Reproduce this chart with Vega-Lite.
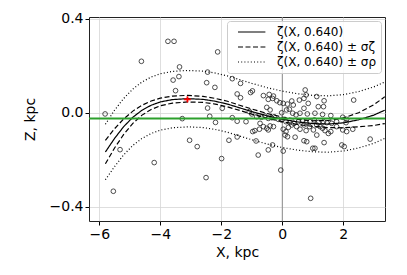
{
  "$schema": "https://vega.github.io/schema/vega-lite/v6.json",
  "width": 296,
  "height": 204,
  "autosize": {"type": "none"},
  "padding": {"left": 89, "top": 17, "right": 22, "bottom": 54},
  "background": "white",
  "config": {
    "font": "DejaVu Sans",
    "view": {"stroke": "#222", "strokeWidth": 1},
    "axis": {
      "labelFont": "DejaVu Sans", "labelFontSize": 14, "labelColor": "#000",
      "titleFont": "DejaVu Sans", "titleFontSize": 14, "titleFontWeight": "normal", "titleColor": "#000",
      "tickColor": "#000", "tickSize": 4, "labelPadding": 2, "domain": false,
      "gridColor": "#d6d6d6", "gridWidth": 0.8
    },
    "legend": {
      "orient": "top-right", "offset": 4, "padding": 5,
      "strokeColor": "#cccccc", "fillColor": "rgba(255,255,255,0.85)", "cornerRadius": 3,
      "labelFont": "DejaVu Sans", "labelFontSize": 12, "labelColor": "#000",
      "rowPadding": 3, "labelOffset": 33,
      "symbolType": "M0,0H10", "symbolSize": 30, "symbolStrokeWidth": 1.2, "symbolStrokeColor": "#000"
    }
  },
  "datasets": {
    "pts": [
      {"x": -3.75, "z": 0.305}, {"x": -3.55, "z": 0.305}, {"x": -2.12, "z": 0.26}, {"x": -4.62, "z": 0.22},
      {"x": -3.37, "z": 0.196}, {"x": -2.45, "z": 0.174}, {"x": -3.58, "z": 0.14}, {"x": -3.39, "z": 0.155},
      {"x": -2.48, "z": 0.129}, {"x": -2.21, "z": 0.109}, {"x": -1.64, "z": 0.146}, {"x": -3.5, "z": 0.095},
      {"x": -1.48, "z": 0.081}, {"x": -2.45, "z": 0.021}, {"x": -1.97, "z": 0.02}, {"x": -5.81, "z": -0.004},
      {"x": -3.28, "z": -0.024}, {"x": -2.38, "z": -0.014}, {"x": -2.19, "z": -0.04}, {"x": -1.64, "z": -0.02},
      {"x": -1.48, "z": -0.035},
      {"x": -3.04, "z": -0.116}, {"x": -2.79, "z": -0.143}, {"x": -1.75, "z": -0.116}, {"x": -1.48, "z": -0.102},
      {"x": -5.32, "z": -0.156}, {"x": -1.99, "z": -0.194}, {"x": -4.2, "z": -0.211}, {"x": -2.5, "z": -0.275},
      {"x": -5.54, "z": -0.333},
      {"x": -1.37, "z": 0.126}, {"x": -1.04, "z": 0.087}, {"x": -0.98, "z": 0.094}, {"x": -0.62, "z": 0.074},
      {"x": -0.43, "z": 0.079}, {"x": -0.29, "z": 0.072}, {"x": 0.75, "z": 0.098}, {"x": 0.78, "z": 0.077},
      {"x": 1.13, "z": 0.07}, {"x": 1.37, "z": 0.052}, {"x": 2.34, "z": 0.055},
      {"x": -1.37, "z": 0.065}, {"x": -0.46, "z": 0.058}, {"x": -0.32, "z": 0.062}, {"x": -0.18, "z": 0.052},
      {"x": -0.08, "z": 0.044}, {"x": 0.03, "z": 0.041}, {"x": 0.17, "z": 0.038}, {"x": 0.31, "z": 0.051},
      {"x": 0.36, "z": 0.034}, {"x": 0.56, "z": 0.055}, {"x": 0.71, "z": 0.062}, {"x": 0.85, "z": 0.041},
      {"x": 1.18, "z": 0.027}, {"x": 1.35, "z": 0.027},
      {"x": -1.08, "z": 0.006}, {"x": -0.51, "z": 0.024}, {"x": -0.4, "z": 0.013}, {"x": -0.02, "z": 0.001},
      {"x": 0.14, "z": 0.013}, {"x": 0.23, "z": 0.016}, {"x": 0.34, "z": -0.001}, {"x": 0.45, "z": -0.008},
      {"x": 0.58, "z": -0.001}, {"x": 0.71, "z": 0.02}, {"x": 0.82, "z": -0.004}, {"x": 1.07, "z": -0.001},
      {"x": 1.32, "z": -0.006}, {"x": 1.59, "z": -0.011}, {"x": 1.98, "z": -0.018},
      {"x": -1.19, "z": -0.037}, {"x": -1.0, "z": -0.004}, {"x": -0.84, "z": -0.016}, {"x": -0.68, "z": -0.018},
      {"x": -0.57, "z": -0.013}, {"x": -0.46, "z": -0.023}, {"x": -0.35, "z": -0.02}, {"x": -0.27, "z": -0.016},
      {"x": -0.13, "z": -0.027}, {"x": -0.02, "z": -0.03}, {"x": 0.12, "z": -0.037}, {"x": 0.25, "z": -0.041},
      {"x": 0.38, "z": -0.044}, {"x": 0.53, "z": -0.037}, {"x": 0.67, "z": -0.033}, {"x": 0.78, "z": -0.041},
      {"x": 0.91, "z": -0.037}, {"x": 1.05, "z": -0.03}, {"x": 1.18, "z": -0.041}, {"x": 1.35, "z": -0.037},
      {"x": 1.46, "z": -0.041}, {"x": 1.62, "z": -0.044}, {"x": 1.78, "z": -0.037}, {"x": 2.11, "z": -0.027},
      {"x": 2.09, "z": -0.041},
      {"x": -0.73, "z": -0.044}, {"x": -0.62, "z": -0.058}, {"x": -0.51, "z": -0.065}, {"x": -0.4, "z": -0.055},
      {"x": -0.29, "z": -0.058}, {"x": -0.97, "z": -0.079}, {"x": -0.9, "z": -0.075}, {"x": -0.75, "z": -0.069},
      {"x": -0.46, "z": -0.072}, {"x": 0.03, "z": -0.069}, {"x": 0.12, "z": -0.079}, {"x": 0.2, "z": -0.061},
      {"x": 0.31, "z": -0.051}, {"x": 0.47, "z": -0.058}, {"x": 0.58, "z": -0.069}, {"x": 0.71, "z": -0.051},
      {"x": 0.78, "z": -0.075}, {"x": 0.89, "z": -0.058}, {"x": 1.02, "z": -0.072}, {"x": 1.13, "z": -0.051},
      {"x": 1.24, "z": -0.058}, {"x": 1.32, "z": -0.065}, {"x": 1.4, "z": -0.075}, {"x": 1.51, "z": -0.087},
      {"x": 1.59, "z": -0.079}, {"x": 1.78, "z": -0.058}, {"x": 1.98, "z": -0.072}, {"x": 2.11, "z": -0.079},
      {"x": 2.31, "z": -0.069},
      {"x": -0.86, "z": -0.119}, {"x": 0.09, "z": -0.094}, {"x": 0.17, "z": -0.101}, {"x": 0.42, "z": -0.103},
      {"x": 0.71, "z": -0.118}, {"x": 0.8, "z": -0.122}, {"x": 1.13, "z": -0.094}, {"x": 1.37, "z": -0.126},
      {"x": 1.95, "z": -0.136}, {"x": 2.03, "z": -0.143}, {"x": 2.88, "z": -0.111},
      {"x": -0.79, "z": -0.179}, {"x": -0.46, "z": -0.157}, {"x": -0.32, "z": -0.136}, {"x": 0.03, "z": -0.162},
      {"x": 1.0, "z": -0.15}, {"x": 1.07, "z": -0.15}, {"x": -0.05, "z": -0.243}, {"x": 0.93, "z": -0.363}
    ],
    "curve": [
      {"x": -5.8, "z": -0.166, "su": -0.116, "sl": -0.216, "ru": -0.048, "rl": -0.284},
      {"x": -5.5, "z": -0.108, "su": -0.067, "sl": -0.149, "ru": 0.012, "rl": -0.228},
      {"x": -5.2, "z": -0.058, "su": -0.025, "sl": -0.091, "ru": 0.062, "rl": -0.178},
      {"x": -4.9, "z": -0.018, "su": 0.008, "sl": -0.044, "ru": 0.102, "rl": -0.138},
      {"x": -4.6, "z": 0.012, "su": 0.033, "sl": -0.009, "ru": 0.132, "rl": -0.108},
      {"x": -4.3, "z": 0.033, "su": 0.051, "sl": 0.015, "ru": 0.153, "rl": -0.087},
      {"x": -4.0, "z": 0.047, "su": 0.063, "sl": 0.031, "ru": 0.167, "rl": -0.073},
      {"x": -3.6, "z": 0.057, "su": 0.072, "sl": 0.042, "ru": 0.177, "rl": -0.063},
      {"x": -3.1, "z": 0.061, "su": 0.075, "sl": 0.047, "ru": 0.181, "rl": -0.059},
      {"x": -2.6, "z": 0.058, "su": 0.071, "sl": 0.045, "ru": 0.178, "rl": -0.062},
      {"x": -2.2, "z": 0.05, "su": 0.062, "sl": 0.038, "ru": 0.17, "rl": -0.07},
      {"x": -1.8, "z": 0.038, "su": 0.05, "sl": 0.026, "ru": 0.158, "rl": -0.082},
      {"x": -1.4, "z": 0.022, "su": 0.033, "sl": 0.011, "ru": 0.142, "rl": -0.098},
      {"x": -1.0, "z": 0.006, "su": 0.017, "sl": -0.005, "ru": 0.126, "rl": -0.114},
      {"x": -0.5, "z": -0.012, "su": -0.002, "sl": -0.022, "ru": 0.108, "rl": -0.132},
      {"x": 0.0, "z": -0.027, "su": -0.017, "sl": -0.037, "ru": 0.093, "rl": -0.147},
      {"x": 0.5, "z": -0.038, "su": -0.027, "sl": -0.049, "ru": 0.082, "rl": -0.158},
      {"x": 1.0, "z": -0.045, "su": -0.033, "sl": -0.057, "ru": 0.075, "rl": -0.165},
      {"x": 1.5, "z": -0.047, "su": -0.032, "sl": -0.062, "ru": 0.073, "rl": -0.167},
      {"x": 2.0, "z": -0.042, "su": -0.021, "sl": -0.063, "ru": 0.078, "rl": -0.162},
      {"x": 2.5, "z": -0.029, "su": 0.001, "sl": -0.059, "ru": 0.091, "rl": -0.149},
      {"x": 3.0, "z": -0.009, "su": 0.035, "sl": -0.053, "ru": 0.111, "rl": -0.129},
      {"x": 3.36, "z": 0.012, "su": 0.069, "sl": -0.045, "ru": 0.132, "rl": -0.108}
    ],
    "err": [{"x": -3.11, "z": 0.058, "xlo": -3.22, "xhi": -3.0, "zlo": 0.045, "zhi": 0.071}],
    "ref": [{"x0": 0, "zg": -0.023}]
  },
  "layer": [
    {
      "data": {"name": "ref"},
      "mark": {"type": "rule", "color": "#8c8c8c", "strokeWidth": 1},
      "encoding": {
        "x": {"field": "x0", "type": "quantitative", "scale": {"domain": [-6.338, 3.367], "nice": false, "zero": false},
              "axis": {"values": [-6, -4, -2, 0, 2], "format": "d", "title": "X, kpc", "titlePadding": 4, "grid": true}}
      }
    },
    {
      "data": {"name": "pts"},
      "mark": {"type": "point", "shape": "circle", "filled": false, "color": "#222", "strokeWidth": 0.8, "size": 22, "opacity": 1},
      "encoding": {
        "x": {"field": "x", "type": "quantitative"},
        "y": {"field": "z", "type": "quantitative", "scale": {"domain": [-0.4596, 0.4085], "nice": false, "zero": false},
              "axis": {"values": [-0.4, 0, 0.4], "format": ".1f", "title": "Z, kpc", "titlePadding": 12, "grid": true}}
      }
    },
    {
      "data": {"name": "curve"},
      "transform": [{"fold": ["z", "su", "sl", "ru", "rl"], "as": ["k", "v"]}],
      "mark": {"type": "line", "color": "#000", "strokeWidth": 1.2, "clip": true},
      "encoding": {
        "x": {"field": "x", "type": "quantitative"},
        "y": {"field": "v", "type": "quantitative"},
        "detail": {"field": "k"},
        "strokeDash": {"field": "k", "type": "nominal",
          "scale": {"domain": ["z", "su", "sl", "ru", "rl"], "range": [[1, 0], [5, 2.5], [5, 2.5], [1, 2.2], [1, 2.2]]},
          "legend": {"values": ["z", "su", "ru"], "title": null,
            "labelExpr": "datum.value === 'z' ? 'ζ(X, 0.640)' : (datum.value === 'su' ? 'ζ(X, 0.640) ± σζ' : 'ζ(X, 0.640) ± σρ')"}}
      }
    },
    {
      "data": {"name": "ref"},
      "mark": {"type": "rule", "color": "#2ca02c", "strokeWidth": 2},
      "encoding": {"y": {"field": "zg", "type": "quantitative"}}
    },
    {
      "data": {"name": "err"},
      "mark": {"type": "rule", "color": "#ff0000", "strokeWidth": 1.8},
      "encoding": {"x": {"field": "x", "type": "quantitative"}, "y": {"field": "zlo", "type": "quantitative"}, "y2": {"field": "zhi"}}
    },
    {
      "data": {"name": "err"},
      "mark": {"type": "rule", "color": "#ff0000", "strokeWidth": 1.8},
      "encoding": {"y": {"field": "z", "type": "quantitative"}, "x": {"field": "xlo", "type": "quantitative"}, "x2": {"field": "xhi"}}
    }
  ]
}
